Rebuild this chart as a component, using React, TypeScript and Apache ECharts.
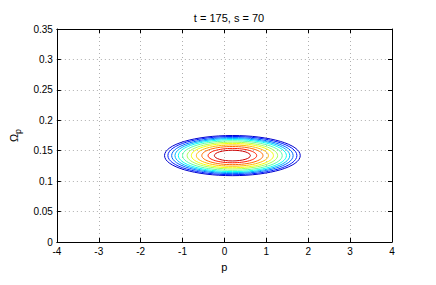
import React, { useEffect, useRef } from 'react';
import * as echarts from 'echarts';

const titleText = 't = 175, s = 70';
const xName = 'p';
const xMin = -4;
const xMax = 4;
const xInterval = 1;
const yMin = 0;
const yMax = 0.35;
const yInterval = 0.05;

// contour ellipses, outermost to innermost
const centerP = 0.19;
const centerOmega = 0.142;
const halfWidthsP = [1.62, 1.54, 1.45, 1.37, 1.29, 1.19, 1.08, 0.98, 0.86, 0.73, 0.58, 0.43];
const halfHeightsOmega = [0.033, 0.0314, 0.0296, 0.028, 0.0263, 0.0243, 0.022, 0.02, 0.0175, 0.0149, 0.0118, 0.0088];
const contourColors = [
  '#0000ce', '#001dff', '#006cff', '#00baff', '#0afff5', '#58ffa7',
  '#a7ff58', '#f5ff0a', '#ffba00', '#ff6c00', '#ff1d00', '#ce0000',
];

const FONT = 'Liberation Sans, Arial, Helvetica, sans-serif';

export default function App() {
  const ref = useRef<HTMLDivElement>(null);
  useEffect(() => {
    const chart = echarts.init(ref.current as HTMLDivElement, null, { renderer: 'svg' });
    const data = halfWidthsP.map((rx, i) => [centerP, centerOmega, rx, halfHeightsOmega[i], i]);
    const gridLine = { show: true, lineStyle: { color: '#b0b0b0', type: [1, 3] as any, width: 1 } };
    const tick = { show: true, inside: true, length: 4, lineStyle: { color: '#000' } };
    const line = { show: true, onZero: false, lineStyle: { color: '#000', width: 1 } };
    chart.setOption({
      animation: false,
      backgroundColor: '#fff',
      textStyle: { fontFamily: FONT },
      title: {
        text: titleText,
        left: 224,
        textAlign: 'center',
        top: 7,
        textStyle: { fontSize: 11, fontWeight: 'normal', color: '#000', fontFamily: FONT },
      },
      grid: { left: 56, right: 44, top: 29, bottom: 43, show: false },
      xAxis: [
        {
          type: 'value', min: xMin, max: xMax, interval: xInterval, position: 'bottom',
          axisLine: line, axisTick: tick, splitLine: gridLine,
          axisLabel: { color: '#000', fontSize: 10, margin: 4, fontFamily: FONT },
          name: xName, nameLocation: 'middle', nameGap: 19,
          nameTextStyle: { color: '#000', fontSize: 11, fontFamily: FONT },
        },
        {
          type: 'value', min: xMin, max: xMax, interval: xInterval, position: 'top',
          axisLine: line, axisTick: tick, splitLine: { show: false }, axisLabel: { show: false },
        },
      ],
      yAxis: [
        {
          type: 'value', min: yMin, max: yMax, interval: yInterval, position: 'left',
          axisLine: line, axisTick: tick, splitLine: gridLine,
          axisLabel: { color: '#000', fontSize: 10, margin: 4, fontFamily: FONT },
          name: '{a|Ω}{b|p}', nameLocation: 'middle', nameGap: 31, nameRotate: 90,
          nameTextStyle: {
            color: '#000', fontFamily: FONT,
            rich: {
              a: { fontSize: 11, color: '#000', fontFamily: FONT },
              b: { fontSize: 9, color: '#000', fontFamily: FONT, padding: [9, 0, 0, 0] },
            },
          },
        },
        {
          type: 'value', min: yMin, max: yMax, interval: yInterval, position: 'right',
          axisLine: line, axisTick: tick, splitLine: { show: false }, axisLabel: { show: false },
        },
      ],
      series: [
        {
          type: 'custom',
          xAxisIndex: 0,
          yAxisIndex: 0,
          encode: { x: 0, y: 1 },
          data,
          clip: true,
          renderItem: (_params: any, api: any) => {
            const c = api.coord([api.value(0), api.value(1)]);
            const s = api.size([api.value(2), api.value(3)]);
            return {
              type: 'ellipse',
              shape: { cx: c[0], cy: c[1], rx: s[0], ry: s[1] },
              style: { fill: 'none', stroke: contourColors[api.value(4)], lineWidth: 1 },
            };
          },
        },
      ],
    });
    return () => chart.dispose();
  }, []);
  return (
    <div
      ref={ref}
      style={{ position: 'absolute', left: 0, top: 0, width: 436, height: 285, background: '#fff' }}
    />
  );
}
